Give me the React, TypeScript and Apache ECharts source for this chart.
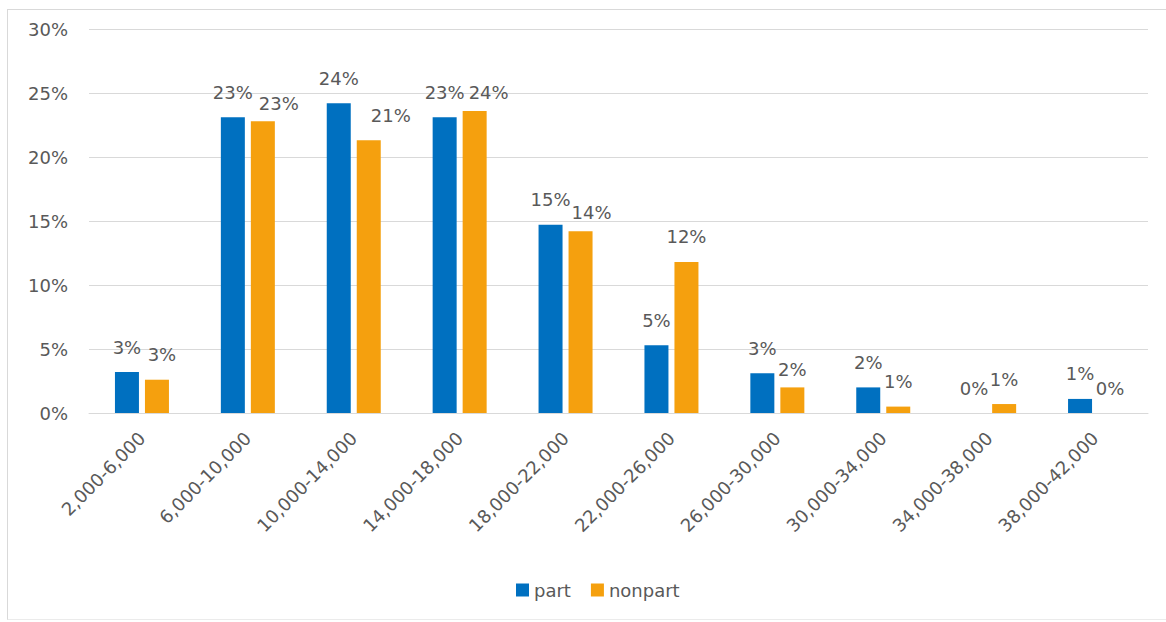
import React, { useEffect, useRef } from "react";
import * as echarts from "echarts";

const categories = [
  "2,000-6,000",
  "6,000-10,000",
  "10,000-14,000",
  "14,000-18,000",
  "18,000-22,000",
  "22,000-26,000",
  "26,000-30,000",
  "30,000-34,000",
  "34,000-38,000",
  "38,000-42,000",
];
const partValues = [3.2, 23.1, 24.2, 23.1, 14.7, 5.3, 3.1, 2.0, 0, 1.1];
const nonpartValues = [2.6, 22.8, 21.3, 23.6, 14.2, 11.8, 2.0, 0.5, 0.7, 0];
const yTicks = { min: 0, max: 30, interval: 5 };

// label nudges (style only) for the nonpart labels, mimicking the reference's placement
const nonpartLabelNudge: [number, number][] = [
  [5, 0], [16, 7], [22, 0], [14, 7], [11, 6], [0, 0], [0, 7], [0, 0], [0, 0], [0, 0],
];

const TEXT = "#595959";
const GRID = "#d9d9d9";
const FONT = "DejaVu Sans";

export default function App() {
  const ref = useRef<HTMLDivElement>(null);
  useEffect(() => {
    if (!ref.current) return;
    const chart = echarts.init(ref.current, undefined, { renderer: "svg" });
    const fmt = (p: any) => Math.round(p.value) + "%";
    const labelBase = {
      show: true,
      position: "top",
      distance: 16,
      color: TEXT,
      fontFamily: FONT,
      fontSize: 18,
      formatter: fmt,
    };
    chart.setOption({
      animation: false,
      backgroundColor: "#ffffff",
      textStyle: { fontFamily: FONT },
      grid: { left: 89, right: 18, top: 29, bottom: 209, containLabel: false },
      legend: {
        data: ["part", "nonpart"],
        left: 511,
        top: 576,
        itemWidth: 13,
        itemHeight: 13,
        itemGap: 20,
        icon: "rect",
        textStyle: { color: TEXT, fontFamily: FONT, fontSize: 18 },
      },
      xAxis: {
        type: "category",
        data: categories,
        axisLine: { show: true, lineStyle: { color: GRID, width: 1 } },
        axisTick: { show: false },
        axisLabel: {
          rotate: 45,
          margin: 22,
          color: TEXT,
          fontFamily: FONT,
          fontSize: 18,
          interval: 0,
        },
      },
      yAxis: {
        type: "value",
        min: yTicks.min,
        max: yTicks.max,
        interval: yTicks.interval,
        axisLine: { show: false },
        axisTick: { show: false },
        splitLine: { lineStyle: { color: GRID, width: 1 } },
        axisLabel: {
          formatter: "{value}%",
          margin: 21,
          color: TEXT,
          fontFamily: FONT,
          fontSize: 18,
        },
      },
      series: [
        {
          name: "part",
          type: "bar",
          data: partValues,
          barWidth: 24,
          barGap: "25%",
          itemStyle: { color: "#0070C0" },
          label: labelBase,
        },
        {
          name: "nonpart",
          type: "bar",
          data: nonpartValues.map((v, i) => ({
            value: v,
            label: { offset: nonpartLabelNudge[i] },
          })),
          barWidth: 24,
          barGap: "25%",
          itemStyle: { color: "#F5A00E" },
          label: labelBase,
        },
      ],
    });
    return () => chart.dispose();
  }, []);
  return (
    <div
      style={{
        position: "fixed",
        left: 0,
        top: 0,
        width: 1166,
        height: 622,
        background: "#fff",
        overflow: "hidden",
      }}
    >
      <div ref={ref} style={{ position: "absolute", left: 0, top: 0, width: 1166, height: 622 }} />
      <div
        style={{
          position: "absolute",
          left: 7,
          top: 9,
          width: 1159,
          height: 611,
          boxSizing: "border-box",
          borderLeft: "1px solid #d9d9d9",
          borderTop: "1px solid #d9d9d9",
          borderBottom: "1px solid #ebebeb",
          pointerEvents: "none",
        }}
      />
    </div>
  );
}
